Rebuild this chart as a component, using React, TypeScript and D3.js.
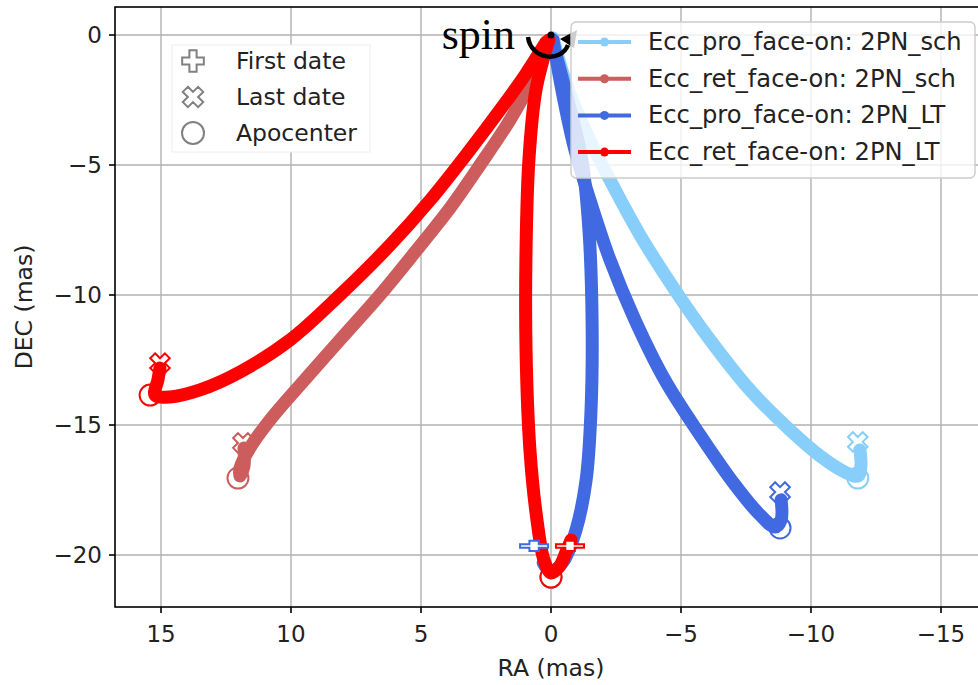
import React, { useEffect, useRef } from 'react';
import * as d3 from 'd3';

type Pt = [number, number];

// axis ticks
const xTicks = [15, 10, 5, 0, -5, -10, -15];
const yTicks = [0, -5, -10, -15, -20];

const seriesNames = [
  'Ecc_pro_face-on: 2PN_sch',
  'Ecc_ret_face-on: 2PN_sch',
  'Ecc_pro_face-on: 2PN_LT',
  'Ecc_ret_face-on: 2PN_LT',
];
const seriesColors = ['#87cefa', '#cd5c5c', '#4169e1', '#ff0000'];

// tracks (RA, DEC) in mas
const proSchTrack: Pt[] = [
  [-0.08, -0.12], [-0.54, -1.73], [-1.31, -3.65], [-2.27, -5.58], [-3.42, -7.69],
  [-4.77, -9.81], [-6.12, -11.73], [-7.65, -13.65], [-9.19, -15.19], [-10.35, -16.19],
  [-11.31, -16.81], [-11.81, -16.96], [-11.92, -16.58], [-11.88, -15.96],
];
const retSchTrack: Pt[] = [
  [0.15, -0.27], [0.73, -1.73], [1.58, -3.27], [2.73, -5.0], [3.88, -6.65],
  [5.23, -8.35], [6.58, -10.0], [8.12, -11.73], [9.65, -13.46], [10.81, -14.81],
  [11.58, -15.88], [11.96, -16.65], [11.96, -16.96], [11.81, -16.58], [11.81, -15.88],
];
const proLtTrack: Pt[] = [
  [-0.08, -0.19], [-0.42, -2.12], [-0.92, -4.42], [-1.5, -6.35], [-2.27, -8.65],
  [-3.23, -10.96], [-4.38, -13.27], [-5.73, -15.38], [-7.08, -17.31], [-8.04, -18.46],
  [-8.62, -18.92], [-8.85, -18.65], [-8.85, -17.88],
];
const proLtLoop: Pt[] = [
  [-0.04, -0.19], [-0.65, -2.5], [-1.19, -4.81], [-1.46, -7.5], [-1.58, -10.96],
  [-1.54, -14.42], [-1.35, -17.12], [-0.96, -19.04], [-0.46, -20.27], [0, -20.65],
  [0.3, -20.3],
];
const retLtTrack: Pt[] = [
  [0.19, -0.27], [1.0, -1.54], [1.96, -2.88], [3.12, -4.42], [4.65, -6.35],
  [6.19, -8.08], [8.12, -10.0], [10.04, -11.73], [11.96, -12.96], [13.5, -13.65],
  [14.65, -13.92], [15.23, -13.85], [15.12, -13.27], [15.04, -12.81],
];
const retLtLoop: Pt[] = [
  [0.08, -0.19], [0.58, -2.12], [0.85, -4.81], [0.96, -8.27], [0.96, -12.12],
  [0.81, -15.96], [0.54, -18.65], [0.27, -20.19], [0, -20.69], [-0.31, -20.46],
  [-0.58, -19.88], [-0.77, -19.42],
];

// markers
const apoProSch: Pt[] = [[-11.8, -17.04]];
const apoRetSch: Pt[] = [[12.04, -17.04]];
const apoProLt: Pt[] = [[-8.81, -18.96], [0, -20.85]];
const apoRetLt: Pt[] = [[15.42, -13.85], [0, -20.85]];
const lastProSch: Pt[] = [[-11.8, -15.65]];
const lastRetSch: Pt[] = [[11.85, -15.69]];
const lastProLt: Pt[] = [[-8.81, -17.58]];
const lastRetLt: Pt[] = [[15.04, -12.62]];
const firstProLt: Pt[] = [[0.65, -19.65]];
const firstRetLt: Pt[] = [[-0.73, -19.65]];

const markerLabels = ['First date', 'Last date', 'Apocenter'];

const series = [
  { tracks: [proSchTrack], apo: apoProSch, last: lastProSch, first: [] as Pt[] },
  { tracks: [retSchTrack], apo: apoRetSch, last: lastRetSch, first: [] as Pt[] },
  { tracks: [proLtTrack, proLtLoop], apo: apoProLt, last: lastProLt, first: firstProLt },
  { tracks: [retLtTrack, retLtLoop], apo: apoRetLt, last: lastRetLt, first: firstRetLt },
];

const W = 978;
const H = 685;
const FONT = 'DejaVu Sans, sans-serif';

const App = () => {
  const svgRef = useRef<SVGSVGElement>(null);

  useEffect(() => {
    const svg = d3.select(svgRef.current);
    svg.selectAll('*').remove();

    const left = 115, right = 987, top = 7, bottom = 607;
    const x = d3.scaleLinear().domain([16.77, -16.77]).range([left, right]);
    const y = d3.scaleLinear().domain([-22, 1.077]).range([bottom, top]);

    svg.append('rect').attr('width', W).attr('height', H).attr('fill', 'white');

    svg.append('defs').append('clipPath').attr('id', 'plotclip')
      .append('rect')
      .attr('x', left).attr('y', top)
      .attr('width', right - left).attr('height', bottom - top);

    // grid
    const grid = svg.append('g');
    grid.selectAll('line.gx').data(xTicks).enter().append('line')
      .attr('x1', d => x(d)).attr('x2', d => x(d))
      .attr('y1', top).attr('y2', bottom)
      .attr('stroke', '#b0b0b0').attr('stroke-width', 1.4);
    grid.selectAll('line.gy').data(yTicks).enter().append('line')
      .attr('x1', left).attr('x2', right)
      .attr('y1', d => y(d)).attr('y2', d => y(d))
      .attr('stroke', '#b0b0b0').attr('stroke-width', 1.4);

    const plot = svg.append('g').attr('clip-path', 'url(#plotclip)');

    const line = d3.line<Pt>()
      .x(d => x(d[0]))
      .y(d => y(d[1]))
      .curve(d3.curveCatmullRom.alpha(0.5));

    const crossPath = d3.symbol().type(d3.symbolCross).size(240)();

    series.forEach((s, i) => {
      const c = seriesColors[i];
      // apocenter circles
      plot.selectAll(null).data(s.apo).enter().append('circle')
        .attr('cx', d => x(d[0])).attr('cy', d => y(d[1])).attr('r', 10.5)
        .attr('fill', 'white').attr('stroke', c).attr('stroke-width', 2);
      // last date X
      plot.selectAll(null).data(s.last).enter().append('path')
        .attr('d', crossPath)
        .attr('transform', d => `translate(${x(d[0])},${y(d[1])}) rotate(45)`)
        .attr('fill', 'white').attr('stroke', c).attr('stroke-width', 2);
      // tracks
      s.tracks.forEach(t => {
        plot.append('path')
          .attr('d', line(t))
          .attr('fill', 'none')
          .attr('stroke', c)
          .attr('stroke-width', 13)
          .attr('stroke-linecap', 'round')
          .attr('stroke-linejoin', 'round');
      });
    });

    // first date markers on top
    series.forEach((s, i) => {
      plot.selectAll(null).data(s.first).enter().append('path')
        .attr('d', crossPath)
        .attr('transform', d => `translate(${x(d[0])},${y(d[1])}) scale(1.35,0.5)`)
        .attr('vector-effect', 'non-scaling-stroke')
        .attr('fill', 'white').attr('stroke', seriesColors[i]).attr('stroke-width', 2);
    });

    // spin annotation around the origin
    const ox = x(0), oy = y(0);
    const ann = svg.append('g');
    ann.append('path')
      .attr('d', `M ${ox - 23} ${oy + 2} C ${ox - 20} ${oy + 25}, ${ox + 10} ${oy + 28}, ${ox + 17} ${oy + 10}`)
      .attr('fill', 'none').attr('stroke', 'black').attr('stroke-width', 4.5);
    ann.append('path')
      .attr('d', `M ${ox + 26} ${oy - 5} L ${ox + 9} ${oy + 4} L ${ox + 23} ${oy + 13} Z`)
      .attr('fill', 'black');
    ann.append('circle').attr('cx', ox).attr('cy', oy).attr('r', 3.5).attr('fill', 'black');
    ann.append('text')
      .attr('x', ox - 36).attr('y', oy + 14)
      .attr('text-anchor', 'end')
      .attr('font-family', 'Liberation Serif, serif')
      .attr('font-size', 44)
      .attr('fill', 'black')
      .text('spin');

    // axes frame
    svg.append('rect')
      .attr('x', left).attr('y', top)
      .attr('width', right - left).attr('height', bottom - top)
      .attr('fill', 'none').attr('stroke', 'black').attr('stroke-width', 1.6);

    // x ticks
    const xt = svg.append('g');
    xt.selectAll('line').data(xTicks).enter().append('line')
      .attr('x1', d => x(d)).attr('x2', d => x(d))
      .attr('y1', bottom).attr('y2', bottom + 6)
      .attr('stroke', 'black').attr('stroke-width', 1.6);
    xt.selectAll('text').data(xTicks).enter().append('text')
      .attr('x', d => x(d)).attr('y', bottom + 35)
      .attr('text-anchor', 'middle')
      .attr('font-family', FONT).attr('font-size', 23).attr('fill', '#222')
      .text(d => d3.format('')(d).replace('-', '\u2212'));

    // y ticks
    const yt = svg.append('g');
    yt.selectAll('line').data(yTicks).enter().append('line')
      .attr('x1', left - 6).attr('x2', left)
      .attr('y1', d => y(d)).attr('y2', d => y(d))
      .attr('stroke', 'black').attr('stroke-width', 1.6);
    yt.selectAll('text').data(yTicks).enter().append('text')
      .attr('x', left - 13).attr('y', d => y(d) + 8)
      .attr('text-anchor', 'end')
      .attr('font-family', FONT).attr('font-size', 23).attr('fill', '#222')
      .text(d => d3.format('')(d).replace('-', '\u2212'));

    // axis labels
    svg.append('text')
      .attr('x', x(0)).attr('y', 676)
      .attr('text-anchor', 'middle')
      .attr('font-family', FONT).attr('font-size', 23.5).attr('fill', '#222')
      .text('RA (mas)');
    svg.append('text')
      .attr('transform', `translate(32, ${(top + bottom) / 2}) rotate(-90)`)
      .attr('text-anchor', 'middle')
      .attr('font-family', FONT).attr('font-size', 23.5).attr('fill', '#222')
      .text('DEC (mas)');

    // marker legend
    const ml = svg.append('g');
    ml.append('rect')
      .attr('x', 172).attr('y', 45).attr('width', 198).attr('height', 107)
      .attr('fill', 'white').attr('stroke', '#eeeeee').attr('stroke-width', 1);
    markerLabels.forEach((lab, i) => {
      const cy = 61 + i * 36;
      const g = ml.append('g');
      if (i === 2) {
        g.append('circle').attr('cx', 193).attr('cy', cy).attr('r', 11)
          .attr('fill', 'white').attr('stroke', '#808080').attr('stroke-width', 2);
      } else {
        g.append('path')
          .attr('d', d3.symbol().type(d3.symbolCross).size(260)())
          .attr('transform', `translate(193,${cy})${i === 1 ? ' rotate(45)' : ''}`)
          .attr('fill', 'white').attr('stroke', '#808080').attr('stroke-width', 2);
      }
      g.append('text')
        .attr('x', 236).attr('y', cy + 8)
        .attr('font-family', FONT).attr('font-size', 23.5).attr('fill', '#222')
        .text(lab);
    });

    // series legend
    const sl = svg.append('g');
    sl.append('rect')
      .attr('x', 571).attr('y', 22).attr('width', 404).attr('height', 156)
      .attr('rx', 5)
      .attr('fill', 'white').attr('fill-opacity', 0.8)
      .attr('stroke', '#cccccc').attr('stroke-width', 1.4);
    seriesNames.forEach((name, i) => {
      const cy = 42 + i * 36.7;
      sl.append('line')
        .attr('x1', 578).attr('x2', 631).attr('y1', cy).attr('y2', cy)
        .attr('stroke', seriesColors[i]).attr('stroke-width', 4);
      sl.append('circle')
        .attr('cx', 604.5).attr('cy', cy).attr('r', 4.5)
        .attr('fill', seriesColors[i]);
      sl.append('text')
        .attr('x', 648).attr('y', cy + 8)
        .attr('font-family', FONT).attr('font-size', 24.2).attr('fill', '#222')
        .text(name);
    });
  }, []);

  return (
    <svg
      ref={svgRef}
      width={W}
      height={H}
      style={{ position: 'absolute', left: 0, top: 0, display: 'block' }}
    />
  );
};

export default App;
